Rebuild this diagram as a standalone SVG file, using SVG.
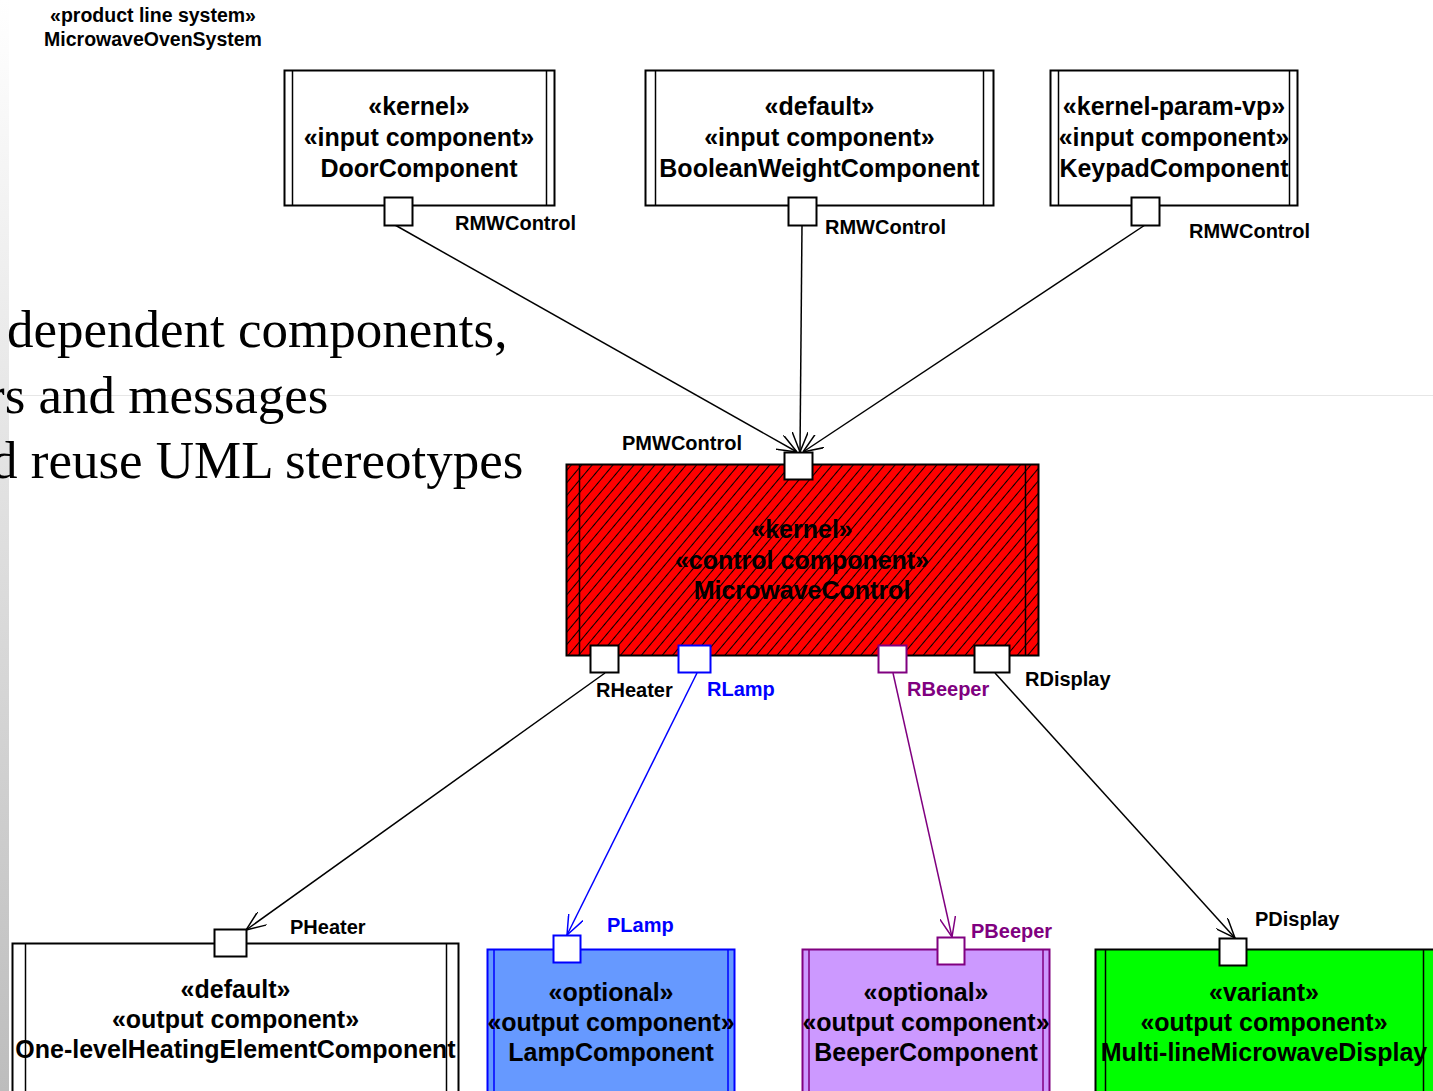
<svg xmlns="http://www.w3.org/2000/svg" width="1433" height="1091" viewBox="0 0 1433 1091">
  <defs>
    <linearGradient id="edgeShade" x1="0" y1="0" x2="0" y2="1">
      <stop offset="0" stop-color="#ffffff"/>
      <stop offset="1" stop-color="#bdbdbd"/>
    </linearGradient>
    <pattern id="hatch" patternUnits="userSpaceOnUse" width="8" height="8" patternTransform="rotate(40)">
      <rect width="8" height="8" fill="#ff0000"/>
      <line x1="0" y1="0" x2="0" y2="8" stroke="#000" stroke-width="2"/>
    </pattern>
    <marker id="openBlack" viewBox="0 0 20 16" refX="20" refY="8" markerWidth="20" markerHeight="16" markerUnits="userSpaceOnUse" orient="auto">
      <path d="M0,0 L20,8 L0,16" fill="none" stroke="#000" stroke-width="1.5"/>
    </marker>
    <marker id="openBlue" viewBox="0 0 20 16" refX="20" refY="8" markerWidth="20" markerHeight="16" markerUnits="userSpaceOnUse" orient="auto">
      <path d="M0,0 L20,8 L0,16" fill="none" stroke="#0000ff" stroke-width="1.5"/>
    </marker>
    <marker id="openPurple" viewBox="0 0 20 16" refX="20" refY="8" markerWidth="20" markerHeight="16" markerUnits="userSpaceOnUse" orient="auto">
      <path d="M0,0 L20,8 L0,16" fill="none" stroke="#800080" stroke-width="1.5"/>
    </marker>
  </defs>
  <style>
    .box { stroke: #000; stroke-width: 2; }
    .edge { stroke: #000; stroke-width: 1.5; }
    .port { fill: #fff; stroke: #000; stroke-width: 2; }
    .name { font-family: "Liberation Sans", Arial, sans-serif; font-weight: bold; font-size: 25px; text-anchor: middle; fill: #000; }
    .lbl { font-family: "Liberation Sans", Arial, sans-serif; font-weight: bold; font-size: 20px; fill: #000; }
    .head { font-family: "Liberation Sans", Arial, sans-serif; font-weight: bold; font-size: 19.5px; text-anchor: middle; fill: #000; }
    .slide { font-family: "Liberation Serif", "Times New Roman", serif; font-size: 53px; fill: #000; }
    .conn { fill: none; stroke-width: 1.5; stroke: #000; }
    .box.blue, .edge.blue, .port.blue, .conn.blue { stroke: #0000ff; }
    .box.purple, .edge.purple, .port.purple, .conn.purple { stroke: #800080; }
    .lbl.blue { fill: #0000ff; }
    .lbl.purple { fill: #800080; }
  </style>

  <rect width="1433" height="1091" fill="#fff"/>

  <!-- slide backdrop -->
  <g id="backdrop">
    <rect x="0" y="0" width="9" height="1091" fill="url(#edgeShade)"/>
    <line x1="0" y1="395.5" x2="1433" y2="395.5" stroke="#e6e6e6" stroke-width="1"/>
    <text class="slide" x="7" y="347">dependent components,</text>
    <text class="slide" x="-13" y="413">rs and messages</text>
    <text class="slide" x="-9" y="478">d reuse UML stereotypes</text>
  </g>

  <g id="system-title">
    <text class="head" x="153" y="22">«product line system»</text>
    <text class="head" x="153" y="46">MicrowaveOvenSystem</text>
  </g>

  <!-- connectors -->
  <g id="connectors">
    <line class="conn" x1="395" y1="225" x2="797" y2="452" marker-end="url(#openBlack)"/>
    <line class="conn" x1="802" y1="225" x2="800" y2="452" marker-end="url(#openBlack)"/>
    <line class="conn" x1="1145" y1="225" x2="803" y2="452" marker-end="url(#openBlack)"/>
    <line class="conn" x1="605" y1="673" x2="246" y2="930" marker-end="url(#openBlack)"/>
    <line class="conn blue" x1="697" y1="673" x2="567" y2="935" marker-end="url(#openBlue)"/>
    <line class="conn purple" x1="893" y1="673" x2="952" y2="937" marker-end="url(#openPurple)"/>
    <line class="conn" x1="995" y1="673" x2="1235" y2="938" marker-end="url(#openBlack)"/>
  </g>

  <!-- input components -->
  <g id="door-component">
    <rect class="box" x="284.5" y="70.5" width="270" height="135" fill="#fff"/>
    <line class="edge" x1="292.5" y1="70.5" x2="292.5" y2="205.5"/>
    <line class="edge" x1="546.5" y1="70.5" x2="546.5" y2="205.5"/>
    <text class="name" x="419" y="115">«kernel»</text>
    <text class="name" x="419" y="146">«input component»</text>
    <text class="name" x="419" y="177">DoorComponent</text>
    <rect class="port" x="384.5" y="197.5" width="28" height="28"/>
    <text class="lbl" x="455" y="230">RMWControl</text>
  </g>

  <g id="boolean-weight-component">
    <rect class="box" x="645.5" y="70.5" width="348" height="135" fill="#fff"/>
    <line class="edge" x1="655.5" y1="70.5" x2="655.5" y2="205.5"/>
    <line class="edge" x1="983.5" y1="70.5" x2="983.5" y2="205.5"/>
    <text class="name" x="819.5" y="115">«default»</text>
    <text class="name" x="819.5" y="146">«input component»</text>
    <text class="name" x="819.5" y="177">BooleanWeightComponent</text>
    <rect class="port" x="788.5" y="197.5" width="28" height="28"/>
    <text class="lbl" x="825" y="234">RMWControl</text>
  </g>

  <g id="keypad-component">
    <rect class="box" x="1050.5" y="70.5" width="247" height="135" fill="#fff"/>
    <line class="edge" x1="1058.5" y1="70.5" x2="1058.5" y2="205.5"/>
    <line class="edge" x1="1289.5" y1="70.5" x2="1289.5" y2="205.5"/>
    <text class="name" x="1174" y="115">«kernel-param-vp»</text>
    <text class="name" x="1174" y="146">«input component»</text>
    <text class="name" x="1174" y="177">KeypadComponent</text>
    <rect class="port" x="1131.5" y="197.5" width="28" height="28"/>
    <text class="lbl" x="1189" y="238">RMWControl</text>
  </g>

  <!-- control component -->
  <g id="microwave-control">
    <rect class="box" x="566.5" y="464.5" width="472" height="191" fill="url(#hatch)"/>
    <line class="edge" x1="579.5" y1="464.5" x2="579.5" y2="655.5"/>
    <line class="edge" x1="1025.5" y1="464.5" x2="1025.5" y2="655.5"/>
    <text class="name" x="802" y="538">«kernel»</text>
    <text class="name" x="802" y="569">«control component»</text>
    <text class="name" x="802" y="599">MicrowaveControl</text>
    <rect class="port" x="784.5" y="452.5" width="28" height="27"/>
    <text class="lbl" x="622" y="450">PMWControl</text>
    <rect class="port" x="590.5" y="645.5" width="28" height="27"/>
    <text class="lbl" x="596" y="697">RHeater</text>
    <rect class="port blue" x="678.5" y="645.5" width="32" height="27"/>
    <text class="lbl blue" x="707" y="696">RLamp</text>
    <rect class="port purple" x="878.5" y="645.5" width="28" height="27"/>
    <text class="lbl purple" x="907" y="696">RBeeper</text>
    <rect class="port" x="974.5" y="645.5" width="35" height="27"/>
    <text class="lbl" x="1025" y="686">RDisplay</text>
  </g>

  <!-- output components -->
  <g id="heating-element-component">
    <rect class="box" x="12.5" y="943.5" width="446" height="160" fill="#fff"/>
    <line class="edge" x1="25.5" y1="943.5" x2="25.5" y2="1103"/>
    <line class="edge" x1="446.5" y1="943.5" x2="446.5" y2="1103"/>
    <text class="name" x="235.5" y="998">«default»</text>
    <text class="name" x="235.5" y="1028">«output component»</text>
    <text class="name" x="235.5" y="1058">One-levelHeatingElementComponent</text>
    <rect class="port" x="214.5" y="929.5" width="32" height="27"/>
    <text class="lbl" x="290" y="934">PHeater</text>
  </g>

  <g id="lamp-component">
    <rect class="box blue" x="487.5" y="949.5" width="247" height="155" fill="#6699ff"/>
    <line class="edge blue" x1="494" y1="949.5" x2="494" y2="1104"/>
    <line class="edge blue" x1="728" y1="949.5" x2="728" y2="1104"/>
    <text class="name" x="611" y="1001">«optional»</text>
    <text class="name" x="611" y="1031">«output component»</text>
    <text class="name" x="611" y="1061">LampComponent</text>
    <rect class="port blue" x="553.5" y="935.5" width="27" height="27"/>
    <text class="lbl blue" x="607" y="932">PLamp</text>
  </g>

  <g id="beeper-component">
    <rect class="box purple" x="802.5" y="949.5" width="247" height="155" fill="#cc99ff"/>
    <line class="edge purple" x1="809" y1="949.5" x2="809" y2="1104"/>
    <line class="edge purple" x1="1043" y1="949.5" x2="1043" y2="1104"/>
    <text class="name" x="926" y="1001">«optional»</text>
    <text class="name" x="926" y="1031">«output component»</text>
    <text class="name" x="926" y="1061">BeeperComponent</text>
    <rect class="port purple" x="937.5" y="937.5" width="27" height="27"/>
    <text class="lbl purple" x="971" y="938">PBeeper</text>
  </g>

  <g id="display-component">
    <rect class="box" x="1095.5" y="949.5" width="345" height="155" fill="#00ff00"/>
    <line class="edge" x1="1105.5" y1="949.5" x2="1105.5" y2="1104"/>
    <line class="edge" x1="1423.5" y1="949.5" x2="1423.5" y2="1104"/>
    <text class="name" x="1264" y="1001">«variant»</text>
    <text class="name" x="1264" y="1031">«output component»</text>
    <text class="name" x="1264" y="1061">Multi-lineMicrowaveDisplay</text>
    <rect class="port" x="1219.5" y="938.5" width="27" height="27"/>
    <text class="lbl" x="1255" y="926">PDisplay</text>
  </g>
</svg>
